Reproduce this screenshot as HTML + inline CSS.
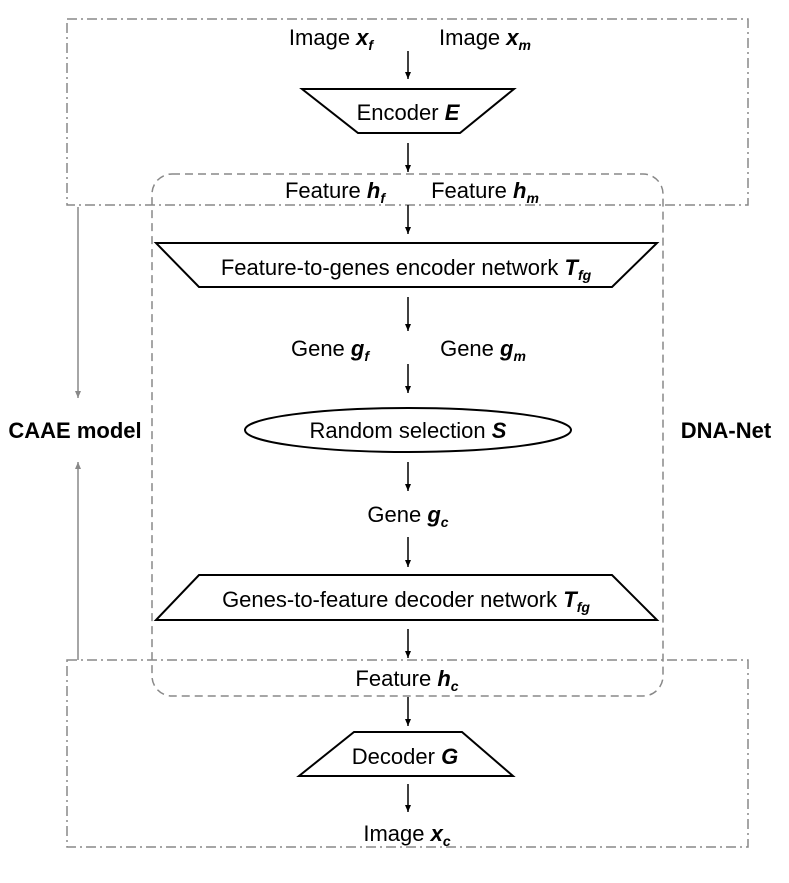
<!DOCTYPE html>
<html><head><meta charset="utf-8"><style>
html,body{margin:0;padding:0;background:#fff;}
svg{display:block;}
text{font-family:"Liberation Sans",sans-serif;font-size:22px;fill:#000;text-anchor:middle;}
.b{font-weight:bold;font-style:italic;}
.s{font-size:14px;font-weight:bold;font-style:italic;}
</style></head><body>
<svg width="789" height="883" viewBox="0 0 789 883" xmlns="http://www.w3.org/2000/svg">
<defs>
<marker id="a" markerWidth="8" markerHeight="8" refX="7" refY="4" orient="auto" markerUnits="userSpaceOnUse"><path d="M0,1 L7,4 L0,7 Z" fill="#000"/></marker>
<marker id="g" markerWidth="8" markerHeight="8" refX="7" refY="4" orient="auto" markerUnits="userSpaceOnUse"><path d="M0,1 L7,4 L0,7 Z" fill="#888"/></marker>
</defs>
<rect x="67" y="19" width="681" height="186" fill="none" stroke="#888" stroke-width="1.5" stroke-dasharray="10,4,2,4"/>
<rect x="67" y="660" width="681" height="187" fill="none" stroke="#888" stroke-width="1.5" stroke-dasharray="10,4,2,4"/>
<rect x="152" y="174" width="511" height="522" rx="20" fill="none" stroke="#888" stroke-width="1.5" stroke-dasharray="8,5"/>
<line x1="78" y1="207" x2="78" y2="398" stroke="#888" stroke-width="1.5" marker-end="url(#g)"/>
<line x1="78" y1="660" x2="78" y2="462" stroke="#888" stroke-width="1.5" marker-end="url(#g)"/>
<g stroke="#000" stroke-width="1.5">
<line x1="408" y1="51" x2="408" y2="79" marker-end="url(#a)"/>
<line x1="408" y1="143" x2="408" y2="172" marker-end="url(#a)"/>
<line x1="408" y1="205" x2="408" y2="234" marker-end="url(#a)"/>
<line x1="408" y1="297" x2="408" y2="331" marker-end="url(#a)"/>
<line x1="408" y1="364" x2="408" y2="393" marker-end="url(#a)"/>
<line x1="408" y1="462" x2="408" y2="491" marker-end="url(#a)"/>
<line x1="408" y1="537" x2="408" y2="567" marker-end="url(#a)"/>
<line x1="408" y1="629" x2="408" y2="658" marker-end="url(#a)"/>
<line x1="408" y1="697" x2="408" y2="726" marker-end="url(#a)"/>
<line x1="408" y1="784" x2="408" y2="812" marker-end="url(#a)"/>
</g>
<g fill="#fff" stroke="#000" stroke-width="2">
<polygon points="302,89 514,89 460,133 358,133"/>
<polygon points="156,243 657,243 612,287 199,287"/>
<ellipse cx="408" cy="430" rx="163" ry="22"/>
<polygon points="199,575 612,575 657,620 156,620"/>
<polygon points="354,732 462,732 513,776 299,776"/>
</g>
<text x="331" y="45">Image <tspan class="b">x</tspan><tspan class="s" dy="5">f</tspan></text>
<text x="485" y="45">Image <tspan class="b">x</tspan><tspan class="s" dy="5">m</tspan></text>
<text x="408" y="120">Encoder <tspan class="b">E</tspan></text>
<text x="335" y="198">Feature <tspan class="b">h</tspan><tspan class="s" dy="5">f</tspan></text>
<text x="485" y="198">Feature <tspan class="b">h</tspan><tspan class="s" dy="5">m</tspan></text>
<text x="406" y="275">Feature-to-genes encoder network <tspan class="b">T</tspan><tspan class="s" dy="5">fg</tspan></text>
<text x="330" y="356">Gene <tspan class="b">g</tspan><tspan class="s" dy="5">f</tspan></text>
<text x="483" y="356">Gene <tspan class="b">g</tspan><tspan class="s" dy="5">m</tspan></text>
<text x="408" y="438">Random selection <tspan class="b">S</tspan></text>
<text x="408" y="522">Gene <tspan class="b">g</tspan><tspan class="s" dy="5">c</tspan></text>
<text x="406" y="607">Genes-to-feature decoder network <tspan class="b">T</tspan><tspan class="s" dy="5">fg</tspan></text>
<text x="407" y="686">Feature <tspan class="b">h</tspan><tspan class="s" dy="5">c</tspan></text>
<text x="405" y="764">Decoder <tspan class="b">G</tspan></text>
<text x="407" y="841">Image <tspan class="b">x</tspan><tspan class="s" dy="5">c</tspan></text>
<text x="75" y="438" style="font-weight:bold">CAAE model</text>
<text x="726" y="438" style="font-weight:bold">DNA-Net</text>
</svg>
</body></html>
